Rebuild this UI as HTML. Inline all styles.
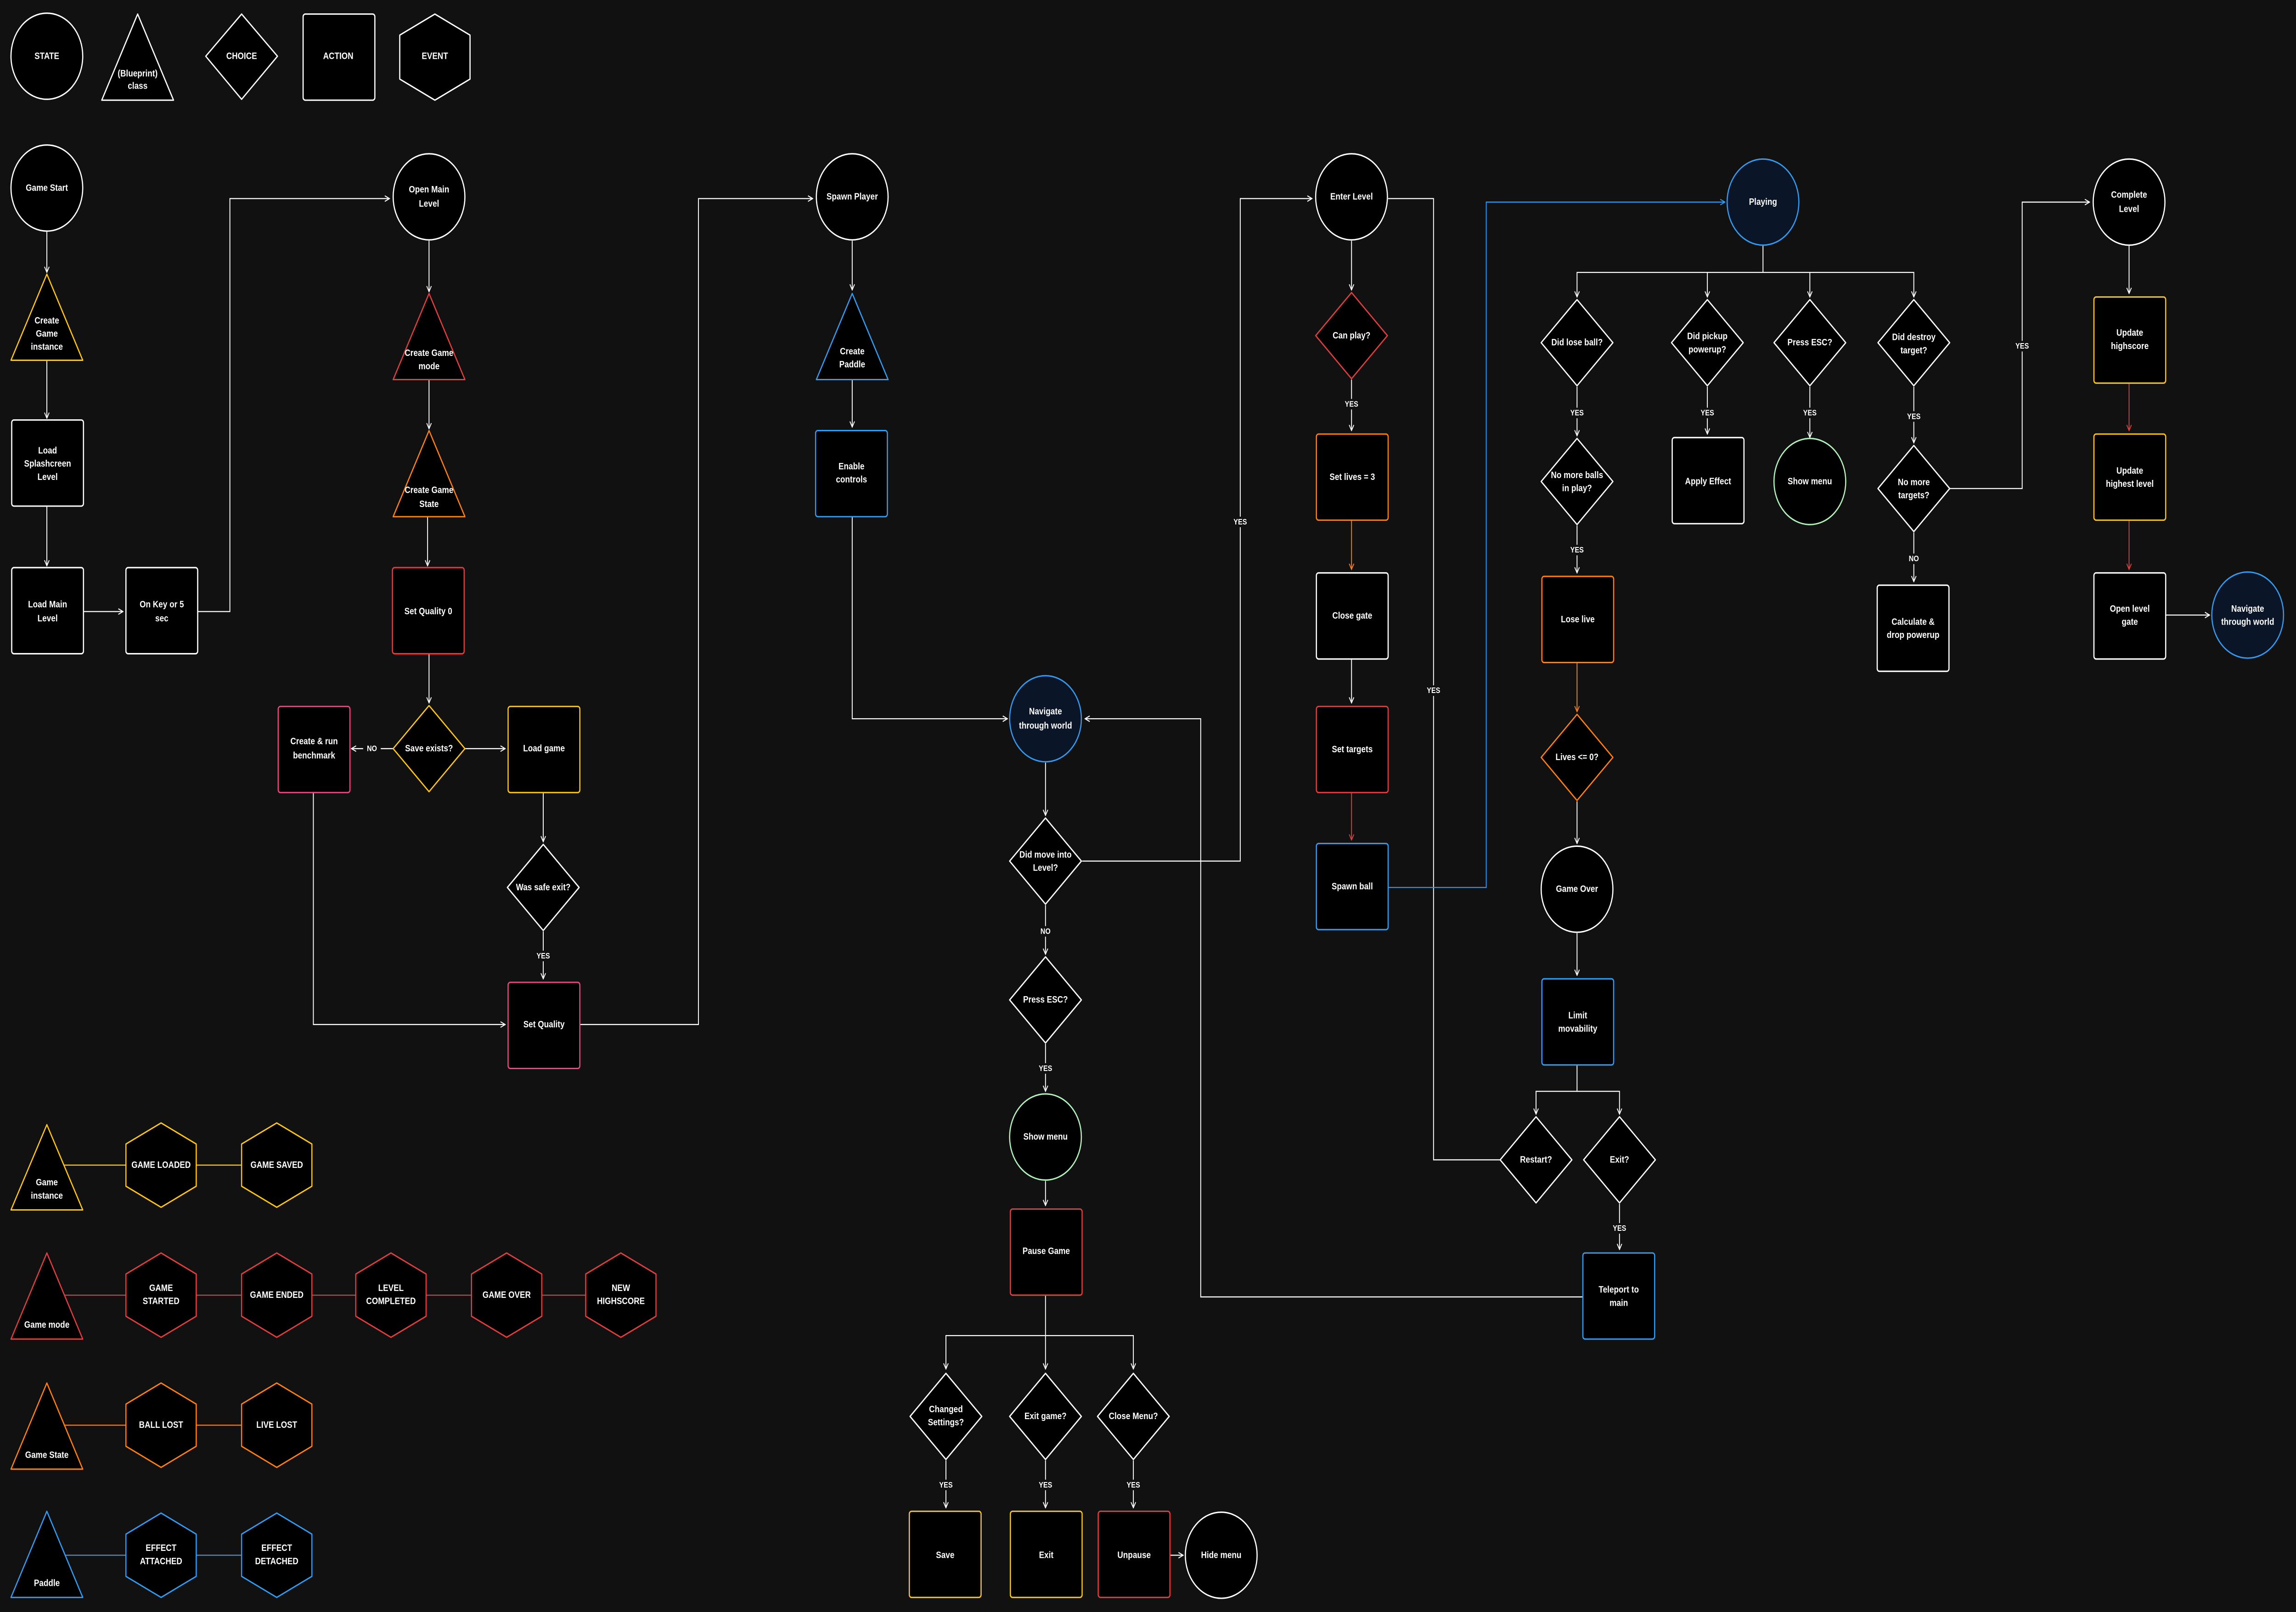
<!DOCTYPE html>
<html><head><meta charset="utf-8"><style>
html,body{margin:0;padding:0;background:#111111;overflow:hidden;width:100%;height:100%;}
svg{display:block;width:100vw;height:100vh;}
text{font-family:"Liberation Sans",sans-serif;font-weight:bold;fill:#fff;text-anchor:middle;dominant-baseline:central;font-size:5.4px;}
.lb{font-size:4.6px;}
.n{fill:#000;stroke-width:.8;stroke-linejoin:round;}
.c{fill:none;stroke:#fff;stroke-width:.6;}
</style></head><body>
<svg viewBox="0 0 1568 917.3" preserveAspectRatio="none" xmlns="http://www.w3.org/2000/svg">
<defs>
<marker id="w" viewBox="0 0 10 10" refX="9" refY="5" markerWidth="4" markerHeight="4" orient="auto" markerUnits="userSpaceOnUse"><path d="M1,1L9,5L1,9" fill="none" stroke="#fff" stroke-width="1.4"/></marker>
<marker id="o" viewBox="0 0 10 10" refX="9" refY="5" markerWidth="4" markerHeight="4" orient="auto" markerUnits="userSpaceOnUse"><path d="M1,1L9,5L1,9" fill="none" stroke="#fd7e14" stroke-width="1.4"/></marker>
<marker id="r" viewBox="0 0 10 10" refX="9" refY="5" markerWidth="4" markerHeight="4" orient="auto" markerUnits="userSpaceOnUse"><path d="M1,1L9,5L1,9" fill="none" stroke="#e03e3e" stroke-width="1.4"/></marker>
<marker id="b" viewBox="0 0 10 10" refX="9" refY="5" markerWidth="4" markerHeight="4" orient="auto" markerUnits="userSpaceOnUse"><path d="M1,1L9,5L1,9" fill="none" stroke="#339af0" stroke-width="1.4"/></marker>
</defs>
<rect width="1568" height="917.3" fill="#111111"/>

<g class="c" marker-end="url(#w)">
<path d="M32,131V155"/><path d="M32,205V238"/><path d="M32,288V322"/><path d="M57,348H84"/>
<path d="M135,348H157V113H266"/>
<path d="M293,137V166"/><path d="M293,215V244"/><path d="M292,294V322"/><path d="M293,372V400"/>
<path d="M269,426H240"/><path d="M317,426H345"/><path d="M371,451V479"/><path d="M371,530V557"/>
<path d="M214,451V583H345"/><path d="M396,583H477V113H555"/>
<path d="M582,137V165"/><path d="M582,215V243"/><path d="M582,294V409H688"/>
<path d="M714,434V464"/><path d="M739,490H847V113H896"/><path d="M714,515V543"/><path d="M714,594V621"/><path d="M714,672V686"/>
<path d="M714,737V779"/><path d="M714,760H646V779"/><path d="M714,760H774V779"/>
<path d="M646,831V858"/><path d="M714,831V858"/><path d="M774,831V858"/><path d="M799,885H808"/>
<path d="M923,137V165"/><path d="M923,216V245"/><path d="M923,375V400"/>
<path d="M1204,139V155H1077V169"/><path d="M1204,155H1307V169"/><path d="M1166,155V169"/><path d="M1236,155V169"/>
<path d="M1077,220V248"/><path d="M1166,220V247"/><path d="M1236,220V249"/><path d="M1307,220V252"/>
<path d="M1077,299V326"/><path d="M1307,303V331"/><path d="M1331,278H1381V115H1427"/>
<path d="M1077,456V480"/><path d="M1077,531V555"/>
<path d="M1077,606V621H1049V634"/><path d="M1077,621H1106V634"/><path d="M1106,685V711"/>
<path d="M1081,738H820V409H741"/>
<path d="M1454,139V167"/><path d="M1479,350H1509"/>
</g>
<path class="c" d="M948,113H979V660H1025"/>
<path class="c" style="stroke:#fd7e14" d="M923,296V324" marker-end="url(#o)"/>
<path class="c" style="stroke:#fd7e14" d="M1077,377V405" marker-end="url(#o)"/>
<path class="c" style="stroke:#e03e3e" d="M923,451V478" marker-end="url(#r)"/>
<path class="c" style="stroke:#e03e3e" d="M1454,218V245" marker-end="url(#r)"/>
<path class="c" style="stroke:#e03e3e" d="M1454,296V324" marker-end="url(#r)"/>
<path class="c" style="stroke:#339af0" d="M948,505H1015V115H1178" marker-end="url(#b)"/>

<path class="c" style="stroke:#fcc419" d="M44,663H189"/>
<path class="c" style="stroke:#e03e3e" d="M44,737H424"/>
<path class="c" style="stroke:#fd7e14" d="M44,811H189"/>
<path class="c" style="stroke:#339af0" d="M44,885H189"/>

<g fill="#111111">
<rect x="248" y="423" width="12" height="6"/>
<rect x="365" y="541" width="12" height="6"/>
<rect x="841" y="294" width="12" height="6"/>
<rect x="708" y="527" width="12" height="6"/>
<rect x="708" y="605" width="12" height="6"/>
<rect x="640" y="842" width="12" height="6"/><rect x="708" y="842" width="12" height="6"/><rect x="768" y="842" width="12" height="6"/>
<rect x="917" y="227" width="12" height="6"/>
<rect x="973" y="390" width="12" height="6"/>
<rect x="1071" y="232" width="12" height="6"/><rect x="1160" y="232" width="12" height="6"/><rect x="1230" y="232" width="12" height="6"/><rect x="1301" y="234" width="12" height="6"/>
<rect x="1071" y="310" width="12" height="6"/><rect x="1301" y="315" width="12" height="6"/>
<rect x="1375" y="194" width="12" height="6"/>
<rect x="1100" y="696" width="12" height="6"/>
</g>
<g>
<text x="254" y="426" class="lb">NO</text>
<text x="371" y="544" class="lb">YES</text>
<text x="847" y="297" class="lb">YES</text>
<text x="714" y="530" class="lb">NO</text>
<text x="714" y="608" class="lb">YES</text>
<text x="646" y="845" class="lb">YES</text><text x="714" y="845" class="lb">YES</text><text x="774" y="845" class="lb">YES</text>
<text x="923" y="230" class="lb">YES</text>
<text x="979" y="393" class="lb">YES</text>
<text x="1077" y="235" class="lb">YES</text><text x="1166" y="235" class="lb">YES</text><text x="1236" y="235" class="lb">YES</text><text x="1307" y="237" class="lb">YES</text>
<text x="1077" y="313" class="lb">YES</text><text x="1307" y="318" class="lb">NO</text>
<text x="1381" y="197" class="lb">YES</text>
<text x="1106" y="699" class="lb">YES</text>
</g>

<circle class="n" cx="32" cy="32" r="24.5" stroke="#fff"/><text x="32" y="32">STATE</text>
<polygon class="n" points="94,8 118.5,57 69.5,57" stroke="#fff"/><text x="94" y="42">(Blueprint)</text><text x="94" y="49">class</text>
<polygon class="n" points="165,8 189.5,32 165,56.5 140.5,32" stroke="#fff"/><text x="165" y="32">CHOICE</text>
<rect class="n" x="207" y="8" width="49" height="49" rx="1.5" stroke="#fff"/><text x="231" y="32">ACTION</text>
<polygon class="n" points="297,8 321,20 321,45 297,57 273,45 273,20" stroke="#fff"/><text x="297" y="32">EVENT</text>

<circle class="n" cx="32" cy="107" r="24.5" stroke="#fff"/><text x="32" y="107">Game Start</text>
<polygon class="n" points="32,156 56.5,205 7.5,205" stroke="#fcc419"/><text x="32" y="182.5">Create</text><text x="32" y="190">Game</text><text x="32" y="197.5">instance</text>
<rect class="n" x="8" y="239" width="49" height="49" rx="1.5" stroke="#fff"/><text x="32.5" y="256.5">Load</text><text x="32.5" y="264">Splashcreen</text><text x="32.5" y="271.5">Level</text>
<rect class="n" x="8" y="323" width="49" height="49" rx="1.5" stroke="#fff"/><text x="32.5" y="344">Load Main</text><text x="32.5" y="352">Level</text>
<rect class="n" x="86" y="323" width="49" height="49" rx="1.5" stroke="#fff"/><text x="110.5" y="344">On Key or 5</text><text x="110.5" y="352">sec</text>

<circle class="n" cx="293" cy="112" r="24.5" stroke="#fff"/><text x="293" y="108">Open Main</text><text x="293" y="116">Level</text>
<polygon class="n" points="293,167 317.5,216 268.5,216" stroke="#e03e3e"/><text x="293" y="201">Create Game</text><text x="293" y="208.5">mode</text>
<polygon class="n" points="293,245 317.5,294 268.5,294" stroke="#fd7e14"/><text x="293" y="279">Create Game</text><text x="293" y="287">State</text>
<rect class="n" x="268" y="323" width="49" height="49" rx="1.5" stroke="#e03e3e"/><text x="292.5" y="348">Set Quality 0</text>
<polygon class="n" points="293,401.5 317.5,426 293,450.5 268.5,426" stroke="#fcc419"/><text x="293" y="426">Save exists?</text>
<rect class="n" x="190" y="402" width="49" height="49" rx="1.5" stroke="#e64980"/><text x="214.5" y="422">Create &amp; run</text><text x="214.5" y="430">benchmark</text>
<rect class="n" x="347" y="402" width="49" height="49" rx="1.5" stroke="#fcc419"/><text x="371.5" y="426">Load game</text>
<polygon class="n" points="371,480.5 395.5,505 371,529.5 346.5,505" stroke="#fff"/><text x="371" y="505">Was safe exit?</text>
<rect class="n" x="347" y="559" width="49" height="49" rx="1.5" stroke="#e64980"/><text x="371.5" y="583">Set Quality</text>

<circle class="n" cx="582" cy="112" r="24.5" stroke="#fff"/><text x="582" y="112">Spawn Player</text>
<polygon class="n" points="582,167 606.5,216 557.5,216" stroke="#339af0"/><text x="582" y="200">Create</text><text x="582" y="207.5">Paddle</text>
<rect class="n" x="557" y="245" width="49" height="49" rx="1.5" stroke="#339af0"/><text x="581.5" y="265.5">Enable</text><text x="581.5" y="273">controls</text>
<circle class="n" cx="714" cy="409" r="24.5" stroke="#339af0" style="fill:#0a1628"/><text x="714" y="405">Navigate</text><text x="714" y="413">through world</text>
<polygon class="n" points="714,465.5 738.5,490 714,514.5 689.5,490" stroke="#fff"/><text x="714" y="486.5">Did move into</text><text x="714" y="494">Level?</text>
<polygon class="n" points="714,544.5 738.5,569 714,593.5 689.5,569" stroke="#fff"/><text x="714" y="569">Press ESC?</text>
<circle class="n" cx="714" cy="647" r="24.5" stroke="#b2f2bb"/><text x="714" y="647">Show menu</text>
<rect class="n" x="690" y="688" width="49" height="49" rx="1.5" stroke="#e03e3e"/><text x="714.5" y="712">Pause Game</text>
<polygon class="n" points="646,781.5 670.5,806 646,830.5 621.5,806" stroke="#fff"/><text x="646" y="802">Changed</text><text x="646" y="809.5">Settings?</text>
<polygon class="n" points="714,781.5 738.5,806 714,830.5 689.5,806" stroke="#fff"/><text x="714" y="806">Exit game?</text>
<polygon class="n" points="774,781.5 798.5,806 774,830.5 749.5,806" stroke="#fff"/><text x="774" y="806">Close Menu?</text>
<rect class="n" x="621" y="860" width="49" height="49" rx="1.5" stroke="#fcc419"/><text x="645.5" y="885">Save</text>
<rect class="n" x="690" y="860" width="49" height="49" rx="1.5" stroke="#fcc419"/><text x="714.5" y="885">Exit</text>
<rect class="n" x="750" y="860" width="49" height="49" rx="1.5" stroke="#e03e3e"/><text x="774.5" y="885">Unpause</text>
<circle class="n" cx="834" cy="885" r="24.5" stroke="#fff"/><text x="834" y="885">Hide menu</text>

<circle class="n" cx="923" cy="112" r="24.5" stroke="#fff"/><text x="923" y="112">Enter Level</text>
<polygon class="n" points="923,166.5 947.5,191 923,215.5 898.5,191" stroke="#e03e3e"/><text x="923" y="191">Can play?</text>
<rect class="n" x="899" y="247" width="49" height="49" rx="1.5" stroke="#fd7e14"/><text x="923.5" y="271.5">Set lives = 3</text>
<rect class="n" x="899" y="326" width="49" height="49" rx="1.5" stroke="#fff"/><text x="923.5" y="350.5">Close gate</text>
<rect class="n" x="899" y="402" width="49" height="49" rx="1.5" stroke="#e03e3e"/><text x="923.5" y="426.5">Set targets</text>
<rect class="n" x="899" y="480" width="49" height="49" rx="1.5" stroke="#339af0"/><text x="923.5" y="504.5">Spawn ball</text>

<circle class="n" cx="1204" cy="115" r="24.5" stroke="#339af0" style="fill:#0a1628"/><text x="1204" y="115">Playing</text>
<polygon class="n" points="1077,170.5 1101.5,195 1077,219.5 1052.5,195" stroke="#fff"/><text x="1077" y="195">Did lose ball?</text>
<polygon class="n" points="1166,170.5 1190.5,195 1166,219.5 1141.5,195" stroke="#fff"/><text x="1166" y="191.5">Did pickup</text><text x="1166" y="199">powerup?</text>
<polygon class="n" points="1236,170.5 1260.5,195 1236,219.5 1211.5,195" stroke="#fff"/><text x="1236" y="195">Press ESC?</text>
<polygon class="n" points="1307,170.5 1331.5,195 1307,219.5 1282.5,195" stroke="#fff"/><text x="1307" y="192">Did destroy</text><text x="1307" y="199.5">target?</text>
<polygon class="n" points="1077,249.5 1101.5,274 1077,298.5 1052.5,274" stroke="#fff"/><text x="1077" y="270.5">No more balls</text><text x="1077" y="278">in play?</text>
<rect class="n" x="1142" y="249" width="49" height="49" rx="1.5" stroke="#fff"/><text x="1166.5" y="274">Apply Effect</text>
<circle class="n" cx="1236" cy="274" r="24.5" stroke="#b2f2bb"/><text x="1236" y="274">Show menu</text>
<polygon class="n" points="1307,253.5 1331.5,278 1307,302.5 1282.5,278" stroke="#fff"/><text x="1307" y="274.5">No more</text><text x="1307" y="282">targets?</text>
<rect class="n" x="1282" y="333" width="49" height="49" rx="1.5" stroke="#fff"/><text x="1306.5" y="354">Calculate &amp;</text><text x="1306.5" y="361.5">drop powerup</text>
<rect class="n" x="1053" y="328" width="49" height="49" rx="1.5" stroke="#fd7e14"/><text x="1077.5" y="352.5">Lose live</text>
<polygon class="n" points="1077,406.5 1101.5,431 1077,455.5 1052.5,431" stroke="#fd7e14"/><text x="1077" y="431">Lives &lt;= 0?</text>
<circle class="n" cx="1077" cy="506" r="24.5" stroke="#fff"/><text x="1077" y="506">Game Over</text>
<rect class="n" x="1053" y="557" width="49" height="49" rx="1.5" stroke="#339af0"/><text x="1077.5" y="578">Limit</text><text x="1077.5" y="585.5">movability</text>
<polygon class="n" points="1049,635.5 1073.5,660 1049,684.5 1024.5,660" stroke="#fff"/><text x="1049" y="660">Restart?</text>
<polygon class="n" points="1106,635.5 1130.5,660 1106,684.5 1081.5,660" stroke="#fff"/><text x="1106" y="660">Exit?</text>
<rect class="n" x="1081" y="713" width="49" height="49" rx="1.5" stroke="#339af0"/><text x="1105.5" y="734">Teleport to</text><text x="1105.5" y="741.5">main</text>

<circle class="n" cx="1454" cy="115" r="24.5" stroke="#fff"/><text x="1454" y="111">Complete</text><text x="1454" y="119">Level</text>
<rect class="n" x="1430" y="169" width="49" height="49" rx="1.5" stroke="#fcc419"/><text x="1454.5" y="189.5">Update</text><text x="1454.5" y="197">highscore</text>
<rect class="n" x="1430" y="247" width="49" height="49" rx="1.5" stroke="#fcc419"/><text x="1454.5" y="268">Update</text><text x="1454.5" y="275.5">highest level</text>
<rect class="n" x="1430" y="326" width="49" height="49" rx="1.5" stroke="#fff"/><text x="1454.5" y="346.5">Open level</text><text x="1454.5" y="354">gate</text>
<circle class="n" cx="1535" cy="350" r="24.5" stroke="#339af0" style="fill:#0a1628"/><text x="1535" y="346.5">Navigate</text><text x="1535" y="354">through world</text>

<polygon class="n" points="32,640 56.5,688.5 7.5,688.5" stroke="#fcc419"/><text x="32" y="673">Game</text><text x="32" y="680.5">instance</text>
<polygon class="n" points="110,639 134,651 134,675 110,687 86,675 86,651" stroke="#fcc419"/><text x="110" y="663">GAME LOADED</text>
<polygon class="n" points="189,639 213,651 213,675 189,687 165,675 165,651" stroke="#fcc419"/><text x="189" y="663">GAME SAVED</text>

<polygon class="n" points="32,713 56.5,762 7.5,762" stroke="#e03e3e"/><text x="32" y="754">Game mode</text>
<polygon class="n" points="110,713 134,725 134,749 110,761 86,749 86,725" stroke="#e03e3e"/><text x="110" y="733">GAME</text><text x="110" y="740.5">STARTED</text>
<polygon class="n" points="189,713 213,725 213,749 189,761 165,749 165,725" stroke="#e03e3e"/><text x="189" y="737">GAME ENDED</text>
<polygon class="n" points="267,713 291,725 291,749 267,761 243,749 243,725" stroke="#e03e3e"/><text x="267" y="733">LEVEL</text><text x="267" y="740.5">COMPLETED</text>
<polygon class="n" points="346,713 370,725 370,749 346,761 322,749 322,725" stroke="#e03e3e"/><text x="346" y="737">GAME OVER</text>
<polygon class="n" points="424,713 448,725 448,749 424,761 400,749 400,725" stroke="#e03e3e"/><text x="424" y="733">NEW</text><text x="424" y="740.5">HIGHSCORE</text>

<polygon class="n" points="32,787 56.5,836 7.5,836" stroke="#fd7e14"/><text x="32" y="828">Game State</text>
<polygon class="n" points="110,787 134,799 134,823 110,835 86,823 86,799" stroke="#fd7e14"/><text x="110" y="811">BALL LOST</text>
<polygon class="n" points="189,787 213,799 213,823 189,835 165,823 165,799" stroke="#fd7e14"/><text x="189" y="811">LIVE LOST</text>

<polygon class="n" points="32,860 56.5,909 7.5,909" stroke="#339af0"/><text x="32" y="901">Paddle</text>
<polygon class="n" points="110,861 134,873 134,897 110,909 86,897 86,873" stroke="#339af0"/><text x="110" y="881">EFFECT</text><text x="110" y="888.5">ATTACHED</text>
<polygon class="n" points="189,861 213,873 213,897 189,909 165,897 165,873" stroke="#339af0"/><text x="189" y="881">EFFECT</text><text x="189" y="888.5">DETACHED</text>
</svg>
</body></html>
